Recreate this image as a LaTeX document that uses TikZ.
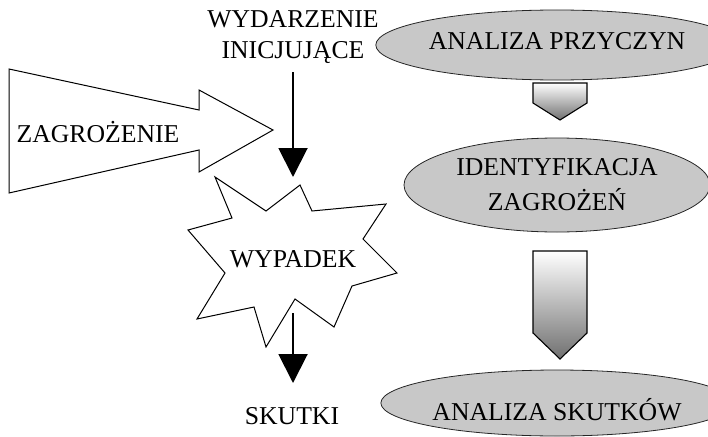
\documentclass[tikz,border=0pt]{standalone}
\usepackage{fontspec}
\setmainfont{Liberation Serif}
\usetikzlibrary{shapes.geometric,arrows.meta}

\definecolor{ovalgray}{RGB}{200,200,200}
\definecolor{shadegray}{RGB}{112,112,112}

\tikzset{
  lbl/.style={font=\fontsize{25.7}{31}\selectfont, inner sep=0pt, align=center},
  oval/.style={ellipse, draw=black!85, line width=0.8pt, fill=ovalgray,
    minimum width=306pt, inner sep=0pt, font=\fontsize{25.7}{35}\selectfont, align=center},
  outline/.style={draw=black, line width=1pt, fill=white, line join=miter},
  blockarrow/.style={draw=black, line width=1.1pt, top color=white, bottom color=shadegray},
  flow/.style={line width=2pt, -{Triangle[width=29pt,length=29pt]}}
}

\begin{document}
\begin{tikzpicture}[x=1pt,y=-1pt]
  \useasboundingbox (0,0) rectangle (708,436);
  \clip (0,0) rectangle (708,436);

  % hazard arrow
  \path[outline] (9,69) -- (199,110) -- (199,90) -- (273,130) -- (199,172)
    -- (199,150) -- (9,193) -- cycle;
  \node[lbl, anchor=base] (zagr) at (98,142) {ZAGROŻENIE};

  % initiating event
  \node[lbl, anchor=base] (wyd1) at (293,28) {WYDARZENIE};
  \node[lbl, anchor=base] (wyd2) at (293,59) {INICJUJĄCE};
  \coordinate (wydout) at (293,72);
  \coordinate (hit) at (293,177);
  \draw[flow] (wydout) -- (hit);

  % accident burst
  \path[outline] (215,177) -- (266,211) -- (300,185) -- (312,211) -- (386,204)
    -- (363,239) -- (397,273) -- (352,286) -- (334,327) -- (295,299)
    -- (266,347) -- (254,307) -- (197,319) -- (225,273) -- (188,230)
    -- (232,218) -- cycle;
  \node[lbl, anchor=base] (wyp) at (293,267) {WYPADEK};

  % consequences
  \coordinate (wypout) at (293,313);
  \coordinate (skin) at (293,383);
  \draw[flow] (wypout) -- (skin);
  \node[lbl, anchor=base] (sk) at (292,424) {SKUTKI};

  % analysis chain
  \node[oval, minimum height=70pt, text depth=8pt] (ap) at (557,45) {ANALIZA PRZYCZYN};
  \node[oval, minimum height=94pt] (iz) at (557,185) {IDENTYFIKACJA\\ZAGROŻEŃ};
  \node[oval, minimum height=66pt, text height=36pt] (as) at (557,403) {ANALIZA SKUTKÓW};

  \path[blockarrow] (533,83) -- (587,83) -- (587,103) -- (560,120) -- (533,103) -- cycle;
  \path[blockarrow] (533,251) -- (587,251) -- (587,333) -- (560,359) -- (533,333) -- cycle;
\end{tikzpicture}
\end{document}
